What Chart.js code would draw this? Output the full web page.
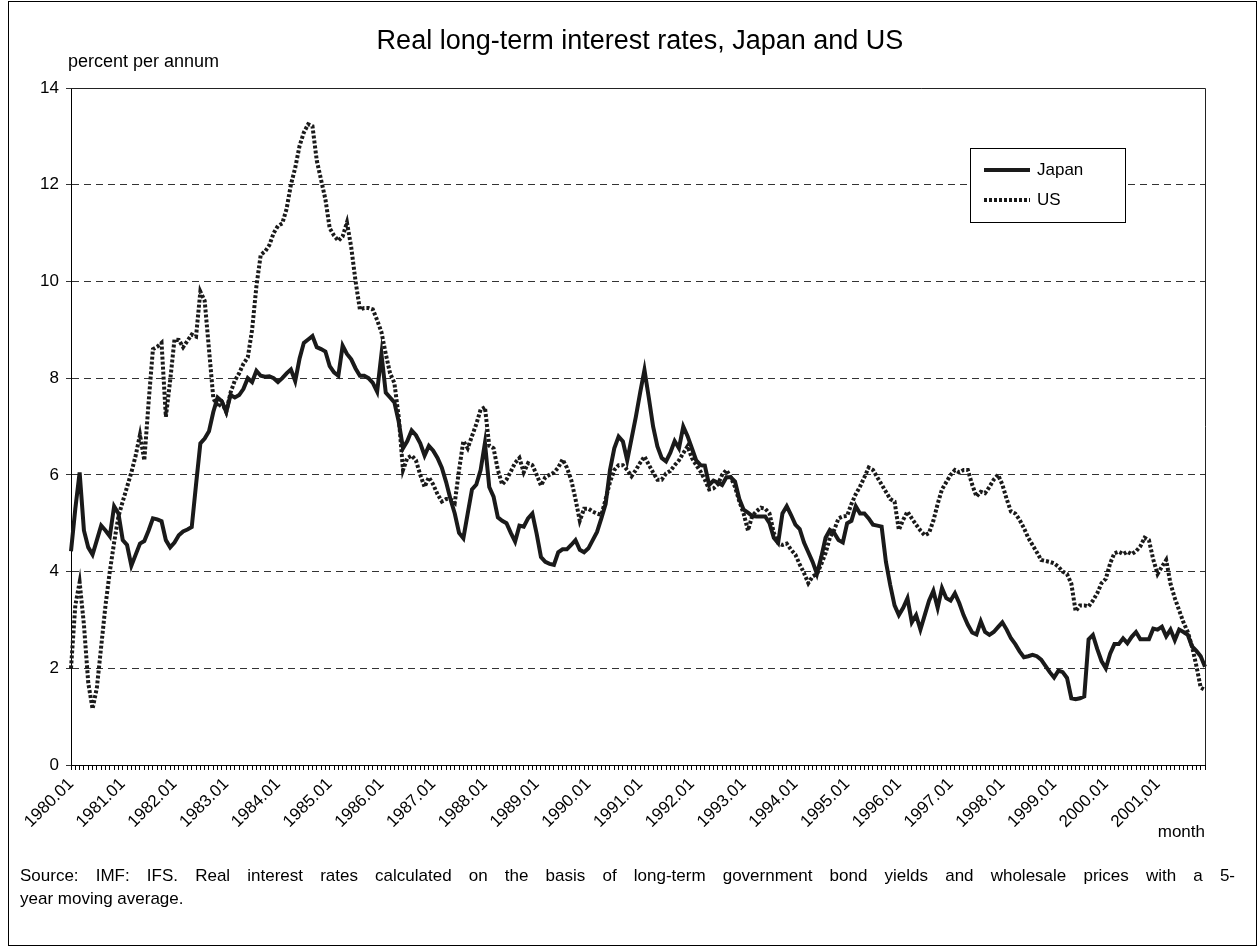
<!DOCTYPE html>
<html>
<head>
<meta charset="utf-8">
<script src="https://cdn.jsdelivr.net/npm/chart.js@4.4.1/dist/chart.umd.min.js"></script>
<style>
  html, body { margin: 0; padding: 0; background: #fff; }
  #wrap { position: relative; width: 1258px; height: 947px; }
</style>
</head>
<body>
<div id="wrap"><canvas id="rates"></canvas></div>
<script>
// ── Data ──────────────────────────────────────────────────────────────────
const YEARS = ['1980', '1981', '1982', '1983', '1984', '1985', '1986', '1987', '1988', '1989', '1990',
               '1991', '1992', '1993', '1994', '1995', '1996', '1997', '1998', '1999', '2000', '2001'];
const MONTHS = ['01', '02', '03', '04', '05', '06', '07', '08', '09', '10', '11', '12'];
const YEAR_TICKS = ['1980.01', '1981.01', '1982.01', '1983.01', '1984.01', '1985.01', '1986.01', '1987.01',
                    '1988.01', '1989.01', '1990.01', '1991.01', '1992.01', '1993.01', '1994.01', '1995.01',
                    '1996.01', '1997.01', '1998.01', '1999.01', '2000.01', '2001,01'];

const JAPAN = [
  4.42, 5.3, 6.05, 4.85, 4.5, 4.35, 4.65, 4.95, 4.85, 4.73, 5.35, 5.2,
  4.65, 4.55, 4.12, 4.35, 4.58, 4.63, 4.85, 5.1, 5.08, 5.04, 4.65, 4.5,
  4.6, 4.75, 4.83, 4.87, 4.92, 5.8, 6.65, 6.75, 6.9, 7.3, 7.6, 7.52,
  7.3, 7.65, 7.6, 7.65, 7.78, 8.0, 7.92, 8.15, 8.05, 8.03, 8.04, 8.0,
  7.92, 8.0, 8.1, 8.18, 7.94, 8.4, 8.73, 8.8, 8.87, 8.64, 8.6, 8.55,
  8.25, 8.12, 8.05, 8.67, 8.5, 8.39, 8.2, 8.05, 8.05, 8.0, 7.9, 7.72,
  8.5, 7.7, 7.6, 7.5, 7.1, 6.55, 6.7, 6.92, 6.82, 6.65, 6.4, 6.6,
  6.5, 6.35, 6.15, 5.85, 5.5, 5.2, 4.8, 4.69, 5.2, 5.7, 5.8, 6.1,
  6.66, 5.75, 5.55, 5.12, 5.05, 5.0, 4.8, 4.62, 4.95, 4.93, 5.1, 5.2,
  4.78, 4.3, 4.2, 4.16, 4.14, 4.4, 4.46, 4.46, 4.55, 4.65, 4.45, 4.4,
  4.48, 4.65, 4.82, 5.1, 5.4, 6.1, 6.55, 6.79, 6.69, 6.3, 6.75, 7.2,
  7.7, 8.17, 7.6, 7.0, 6.59, 6.35, 6.28, 6.46, 6.7, 6.55, 7.0, 6.8,
  6.55, 6.3, 6.2, 6.19, 5.79, 5.88, 5.84, 5.79, 5.95, 5.95, 5.86, 5.5,
  5.28, 5.22, 5.15, 5.14, 5.14, 5.14, 5.0, 4.7, 4.59, 5.2, 5.35, 5.17,
  4.97, 4.88, 4.6, 4.4, 4.2, 3.95, 4.3, 4.7, 4.86, 4.8, 4.65, 4.6,
  5.0, 5.05, 5.35, 5.2, 5.2, 5.1, 4.97, 4.95, 4.93, 4.2, 3.72, 3.3,
  3.1, 3.25, 3.45, 2.95, 3.1, 2.8, 3.1, 3.4, 3.6, 3.25, 3.66, 3.45,
  3.4, 3.55, 3.35, 3.1, 2.9, 2.74, 2.7, 2.97, 2.75, 2.69, 2.75, 2.85,
  2.95, 2.8, 2.62, 2.5, 2.35, 2.23, 2.25, 2.28, 2.25, 2.18, 2.05, 1.92,
  1.81, 1.95, 1.92, 1.8, 1.38, 1.36, 1.38, 1.42, 2.6, 2.69, 2.4, 2.15,
  2.0, 2.3, 2.5, 2.5, 2.62, 2.52, 2.65, 2.75, 2.6, 2.6, 2.6, 2.82,
  2.8, 2.86, 2.66, 2.8, 2.58, 2.8, 2.75, 2.69, 2.45, 2.36, 2.25, 2.03
];

const US = [
  2.0, 3.3, 3.78, 2.9, 1.7, 1.16, 1.6, 2.45, 3.3, 4.0, 4.6, 5.14,
  5.45, 5.75, 6.05, 6.4, 6.83, 6.3, 7.5, 8.6, 8.65, 8.73, 7.2, 7.95,
  8.8, 8.79, 8.64, 8.77, 8.9, 8.86, 9.79, 9.6, 8.6, 7.59, 7.4, 7.5,
  7.3, 7.7, 7.95, 8.1, 8.3, 8.43, 9.0, 9.9, 10.55, 10.62, 10.75, 11.0,
  11.15, 11.2, 11.5, 12.0, 12.35, 12.8, 13.08, 13.25, 13.21, 12.5, 12.1, 11.7,
  11.1, 10.95, 10.84, 10.93, 11.22, 10.7, 10.0, 9.42, 9.45, 9.45, 9.42, 9.2,
  8.95, 8.5, 8.1, 7.9, 7.2, 6.1, 6.35, 6.4, 6.3, 6.0, 5.75, 5.95,
  5.8, 5.6, 5.45, 5.5, 5.5, 5.42, 6.1, 6.7, 6.55, 6.8, 7.05, 7.35,
  7.4, 6.6, 6.55, 6.1, 5.8, 5.9, 6.07, 6.25, 6.35, 6.05, 6.24, 6.2,
  6.0, 5.78, 5.95, 6.0, 6.05, 6.15, 6.32, 6.15, 5.9, 5.5, 5.05, 5.3,
  5.3, 5.24, 5.2, 5.17, 5.5, 5.85, 6.1, 6.2, 6.2, 6.1, 5.97, 6.1,
  6.25, 6.38, 6.21, 6.05, 5.9, 5.9, 6.03, 6.08, 6.2, 6.3, 6.45, 6.59,
  6.35, 6.2, 6.07, 5.9, 5.7, 5.72, 5.8, 6.0, 6.1, 5.95, 5.75, 5.45,
  5.2, 4.85, 5.15, 5.25, 5.32, 5.3, 5.2, 4.8, 4.59, 4.55, 4.58, 4.45,
  4.35, 4.15, 3.97, 3.76, 3.9, 3.95, 4.15, 4.38, 4.7, 4.86, 5.1, 5.14,
  5.15, 5.4, 5.6, 5.76, 5.95, 6.15, 6.1, 5.95, 5.8, 5.65, 5.5, 5.45,
  4.86, 5.07, 5.24, 5.1, 4.97, 4.85, 4.75, 4.8, 5.05, 5.4, 5.7, 5.85,
  6.0, 6.1, 6.05, 6.1, 6.1, 5.8, 5.55, 5.65, 5.62, 5.75, 5.9, 6.0,
  5.8, 5.5, 5.24, 5.2, 5.07, 4.9, 4.7, 4.55, 4.4, 4.24, 4.22, 4.2,
  4.17, 4.1, 4.0, 3.95, 3.75, 3.18, 3.3, 3.3, 3.28, 3.4, 3.55, 3.76,
  3.85, 4.17, 4.38, 4.41, 4.36, 4.41, 4.36, 4.42, 4.52, 4.7, 4.65, 4.25,
  3.95, 4.1, 4.24, 3.75, 3.45, 3.2, 2.95, 2.75, 2.45, 2.05, 1.6, 1.55
];

const TITLE = 'Real long-term interest rates, Japan and US';
const Y_TITLE = 'percent per annum';
const X_TITLE = 'month';
const SOURCE = [
  'Source: IMF: IFS. Real interest rates calculated on the basis of long-term government bond yields and wholesale prices with a 5-',
  'year moving average.'
];

const labels = [];
YEARS.forEach(y => MONTHS.forEach(m => labels.push(y + '.' + m)));

// ── Style ─────────────────────────────────────────────────────────────────
const FONT = '"Liberation Sans", Arial, sans-serif';
const INK = '#1a1a1a';

// draw a line of text stretched to a given width (justified, like the source note)
function justified(ctx, text, x, y, width) {
    const words = text.split(' ');
    const used = words.reduce((s, w) => s + ctx.measureText(w).width, 0);
    const gap = (width - used) / (words.length - 1);
    let cx = x;
    words.forEach(w => {
        ctx.fillText(w, cx, y);
        cx += ctx.measureText(w).width + gap;
    });
}

const decor = {
    id: 'decor',
    afterDraw(chart) {
        const ctx = chart.ctx;
        const a = chart.chartArea;
        ctx.save();

        // outer frame
        ctx.strokeStyle = '#000';
        ctx.lineWidth = 1;
        ctx.strokeRect(8.5, 1.5, 1248, 944);

        // plot top / right edges
        ctx.strokeStyle = '#222';
        ctx.beginPath();
        ctx.moveTo(a.left, a.top + 0.5);
        ctx.lineTo(a.right + 0.5, a.top + 0.5);
        ctx.lineTo(a.right + 0.5, a.bottom);
        ctx.stroke();

        // texts
        ctx.fillStyle = '#000';
        ctx.textBaseline = 'middle';
        ctx.textAlign = 'center';
        ctx.font = '27px ' + FONT;
        ctx.fillText(TITLE, 640, 42);

        ctx.textAlign = 'left';
        ctx.font = '18px ' + FONT;
        ctx.fillText(Y_TITLE, 68, 62);
        ctx.font = '17px ' + FONT;
        ctx.textAlign = 'right';
        ctx.fillText(X_TITLE, 1205, 832);
        ctx.textAlign = 'left';
        justified(ctx, SOURCE[0], 20, 876, 1215);
        ctx.fillText(SOURCE[1], 20, 899);

        // legend
        const lx = 970, ly = 148, lw = 155, lh = 74;
        ctx.fillStyle = '#fff';
        ctx.fillRect(lx, ly, lw, lh);
        ctx.strokeStyle = '#000';
        ctx.lineWidth = 1;
        ctx.strokeRect(lx + 0.5, ly + 0.5, lw, lh);
        chart.data.datasets.forEach((ds, k) => {
            const y = ly + 22 + k * 30;
            ctx.strokeStyle = ds.borderColor;
            ctx.lineWidth = ds.borderWidth;
            ctx.setLineDash(ds.borderDash || []);
            ctx.beginPath();
            ctx.moveTo(lx + 14, y);
            ctx.lineTo(lx + 60, y);
            ctx.stroke();
            ctx.setLineDash([]);
            ctx.fillStyle = '#000';
            ctx.fillText(ds.label, lx + 67, y);
        });
        ctx.restore();
    }
};

new Chart(document.getElementById('rates'), {
    type: 'line',
    data: {
        labels: labels,
        datasets: [
            {
                label: 'Japan',
                data: JAPAN,
                borderColor: INK,
                borderWidth: 4,
                pointRadius: 0,
                tension: 0,
            },
            {
                label: 'US',
                data: US,
                borderColor: INK,
                borderWidth: 4,
                borderDash: [3, 2],
                pointRadius: 0,
                tension: 0,
            }
        ]
    },
    options: {
        responsive: true,
        maintainAspectRatio: false,
        animation: false,
        devicePixelRatio: 1,
        layout: { padding: { top: 88, right: 53, left: 0, bottom: 0 } },
        plugins: {
            legend: { display: false },
            tooltip: { enabled: false },
        },
        scales: {
            x: {
                offset: false,
                afterFit: s => { s.height = 182; },
                grid: { drawOnChartArea: false, drawTicks: true, tickLength: 5, color: '#000' },
                border: { color: '#000', width: 1 },
                ticks: {
                    autoSkip: false,
                    maxRotation: 45,
                    minRotation: 45,
                    padding: 4,
                    color: '#000',
                    font: { family: FONT, size: 17 },
                    callback: (v, i) => (i % 12 === 0 ? YEAR_TICKS[i / 12] : ''),
                }
            },
            y: {
                min: 0,
                max: 14,
                afterFit: s => { s.width = 71; },
                grid: { color: '#333', lineWidth: 1, tickLength: 5 },
                border: { color: '#000', width: 1, dash: [7, 5] },
                ticks: {
                    stepSize: 2,
                    padding: 7,
                    color: '#000',
                    font: { family: FONT, size: 17 },
                }
            }
        }
    },
    plugins: [decor]
});
</script>
</body>
</html>
